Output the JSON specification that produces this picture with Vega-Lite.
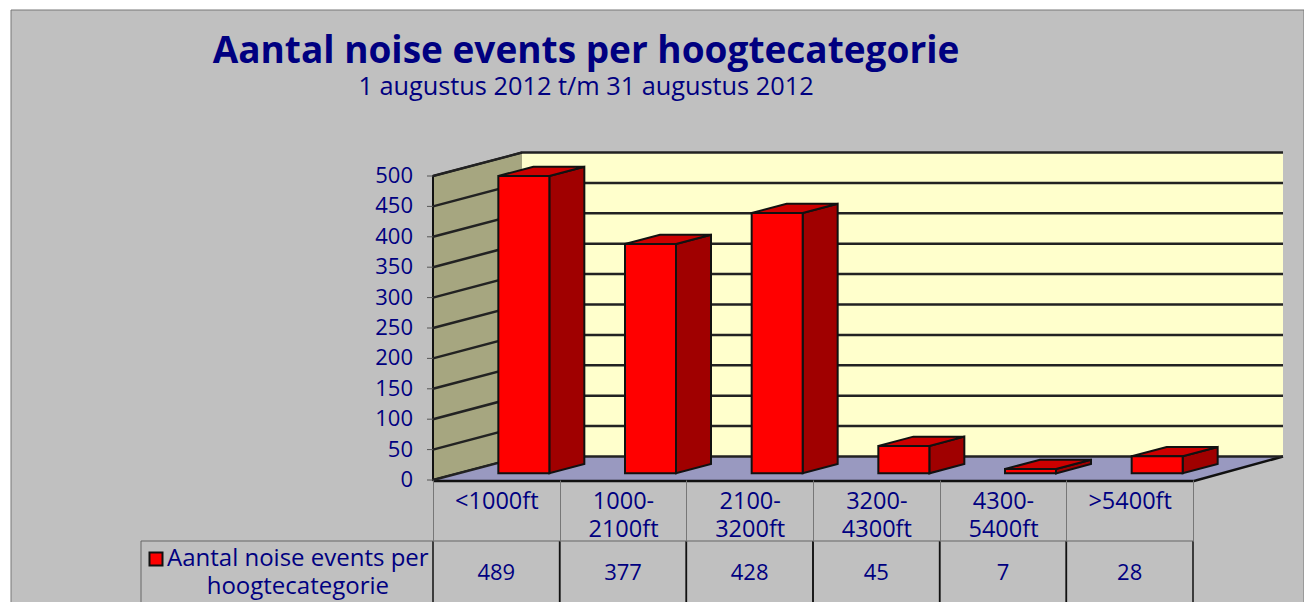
{
"$schema":"https://vega.github.io/schema/vega-lite/v6.json",
"autosize":{"type":"none"},
"width":760,"height":304,
"padding":{"left":433,"top":176,"right":111,"bottom":122},
"background":"white",
"view":{"stroke":null},
"config":{"font":"Open Sans","text":{"font":"Open Sans"}},
"title":{"text":"Aantal noise events per hoogtecategorie","subtitle":"1 augustus 2012 t/m 31 augustus 2012","anchor":"middle","frame":"group","dx":-227,"offset":-93,"font":"Open Sans","fontSize":37,"fontWeight":"bold","color":"#000080","subtitleFont":"Open Sans","subtitleFontSize":25.3,"subtitleColor":"#000080","subtitlePadding":4},
"datasets":{
"bars":[{"cat":"<1000ft","value":489},{"cat":"1000-2100ft","value":377},{"cat":"2100-3200ft","value":428},{"cat":"3200-4300ft","value":45},{"cat":"4300-5400ft","value":7},{"cat":">5400ft","value":28}],
"ticks":[{"tick":0},{"tick":50},{"tick":100},{"tick":150},{"tick":200},{"tick":250},{"tick":300},{"tick":350},{"tick":400},{"tick":450},{"tick":500}],
"one":[{"label":"Aantal noise events per\nhoogtecategorie"}]
},
"layer":[
{"data":{"name":"one"},
 "mark":{"type":"point","size":4,"filled":true,"opacity":1,"fill":"#C0C0C0","stroke":"#777777","strokeWidth":1,"shape":"M-485.33,-470 L807.67,-470 L807.67,130 L-485.33,130 Z"},
 "encoding":{
  "x":{"datum":"<1000ft","type":"nominal","title":null,"scale":{"type":"band","paddingInner":0,"paddingOuter":0,"domain":["<1000ft","1000-2100ft","2100-3200ft","3200-4300ft","4300-5400ft",">5400ft"]},
   "axis":{"zindex":1,"domain":false,"grid":false,"labelAngle":0,"labelFont":"Open Sans","labelFontSize":23.5,"labelColor":"#000080","labelLineHeight":28,"labelPadding":-40,"labelBaseline":"middle","labelOverlap":false,"labelBound":false,"labelFlush":false,"ticks":true,"tickBand":"extent","tickSize":61,"tickColor":"#777777","tickWidth":1,"title":null,
    "labelExpr":"indexof(datum.label,'-')>0 ? [slice(datum.label,0,indexof(datum.label,'-')+1),slice(datum.label,indexof(datum.label,'-')+1)] : datum.label"}},
  "y":{"datum":0,"type":"quantitative","title":null,"scale":{"domain":[0,500],"nice":false,"zero":true},
   "axis":{"zindex":1,"domain":false,"grid":false,"labels":false,"ticks":false,"title":null}}}},
{"data":{"name":"one"},
 "mark":{"type":"point","size":4,"filled":true,"opacity":1,"fill":"#FFFFCC","stroke":null,"shape":"M25.67,-23.5 L786.67,-23.5 L786.67,-327.5 L25.67,-327.5 Z"},
 "encoding":{"x":{"datum":"<1000ft","type":"nominal","title":null},"y":{"datum":0,"type":"quantitative","title":null}}},
{"data":{"name":"one"},
 "mark":{"type":"point","size":4,"filled":true,"opacity":1,"fill":"#A6A680","stroke":"#111111","strokeWidth":2,"shape":"M25.67,-327.5 L-63.33,-304 L-63.33,0 L25.67,-23.5"},
 "encoding":{"x":{"datum":"<1000ft","type":"nominal","title":null},"y":{"datum":0,"type":"quantitative","title":null}}},
{"data":{"name":"one"},
 "mark":{"type":"point","size":4,"filled":true,"opacity":1,"fill":"#9999C0","stroke":null,"shape":"M-63.33,0 L25.67,-23.5 L786.67,-23.5 L697.67,0 Z"},
 "encoding":{"x":{"datum":"<1000ft","type":"nominal","title":null},"y":{"datum":0,"type":"quantitative","title":null}}},
{"data":{"name":"one"},
 "mark":{"type":"point","size":4,"filled":false,"opacity":1,"stroke":"#111111","strokeWidth":2.5,"shape":"M-63.33,1 L697.67,1 L786.67,-23.5"},
 "encoding":{"x":{"datum":"<1000ft","type":"nominal","title":null},"y":{"datum":0,"type":"quantitative","title":null}}},
{"data":{"name":"ticks"},
 "mark":{"type":"point","size":4,"filled":false,"opacity":1,"stroke":"#222222","strokeWidth":2.5,"shape":"M-63.33,0 L25.67,-23.5 L786.67,-23.5"},
 "encoding":{"x":{"datum":"<1000ft","type":"nominal","title":null},"y":{"field":"tick","type":"quantitative","title":null}}},
{"data":{"name":"ticks"},
 "mark":{"type":"point","size":4,"filled":false,"opacity":1,"stroke":"#555555","strokeWidth":1,"shape":"M-69.33,0 L-63.33,0"},
 "encoding":{"x":{"datum":"<1000ft","type":"nominal","title":null},"y":{"field":"tick","type":"quantitative","title":null}}},
{"data":{"name":"ticks"},
 "mark":{"type":"text","font":"Open Sans","fontSize":22,"color":"#000080","align":"right","baseline":"middle","xOffset":-83.33},
 "encoding":{"x":{"datum":"<1000ft","type":"nominal","title":null},"y":{"field":"tick","type":"quantitative","title":null},"text":{"field":"tick","type":"quantitative"}}},
{"data":{"name":"bars"},
 "mark":{"type":"point","size":4,"filled":true,"opacity":1,"stroke":"#111111","strokeWidth":2,"xOffset":27.5,"yOffset":-6.7},
 "encoding":{"x":{"field":"cat","type":"nominal","title":null},"y":{"field":"value","type":"quantitative","title":null},
  "color":{"value":"#A00000"},
  "shape":{"field":"cat","type":"nominal","legend":null,"scale":{"domain":["<1000ft","1000-2100ft","2100-3200ft","3200-4300ft","4300-5400ft",">5400ft"],"range":["M25.5,0 L60.5,-9.3 L60.5,288 L25.5,297.3 Z","M25.5,0 L60.5,-9.3 L60.5,219.9 L25.5,229.2 Z","M25.5,0 L60.5,-9.3 L60.5,250.9 L25.5,260.2 Z","M25.5,0 L60.5,-9.3 L60.5,18.1 L25.5,27.4 Z","M25.5,0 L60.5,-9.3 L60.5,-5 L25.5,4.3 Z","M25.5,0 L60.5,-9.3 L60.5,7.7 L25.5,17 Z"]}}}},
{"data":{"name":"bars"},
 "mark":{"type":"point","size":4,"filled":true,"opacity":1,"fill":"#CC0000","stroke":"#111111","strokeWidth":2,"xOffset":27.5,"yOffset":-6.7,"shape":"M-25.5,0 L25.5,0 L60.5,-9.3 L9.5,-9.3 Z"},
 "encoding":{"x":{"field":"cat","type":"nominal","title":null},"y":{"field":"value","type":"quantitative","title":null}}},
{"data":{"name":"bars"},
 "mark":{"type":"bar","width":51,"fill":"#FF0000","stroke":"#111111","strokeWidth":2,"xOffset":27.5,"yOffset":-6.7},
 "encoding":{"x":{"field":"cat","type":"nominal","title":null},"y":{"field":"value","type":"quantitative","title":null}}},
{"data":{"name":"bars"},
 "mark":{"type":"point","size":4,"filled":false,"opacity":1,"stroke":"#111111","strokeWidth":1.5,"shape":"M-63.33,61 L-63.33,130 M63.33,61 L63.33,130"},
 "encoding":{"x":{"field":"cat","type":"nominal","title":null},"y":{"datum":0,"type":"quantitative","title":null}}},
{"data":{"name":"one"},
 "mark":{"type":"point","size":4,"filled":false,"opacity":1,"stroke":"#666666","strokeWidth":1,"shape":"M-355.33,130 L-355.33,61 L697.67,61"},
 "encoding":{"x":{"datum":"<1000ft","type":"nominal","title":null},"y":{"datum":0,"type":"quantitative","title":null}}},
{"data":{"name":"bars"},
 "mark":{"type":"text","font":"Open Sans","fontSize":22,"color":"#000080","yOffset":93,"baseline":"middle"},
 "encoding":{"x":{"field":"cat","type":"nominal","title":null},"y":{"datum":0,"type":"quantitative","title":null},"text":{"field":"value","type":"quantitative"}}},
{"data":{"name":"one"},
 "mark":{"type":"text","font":"Open Sans","fontSize":24,"color":"#000080","xOffset":-198.5,"yOffset":79,"baseline":"middle","lineHeight":28,"lineBreak":"\n"},
 "encoding":{"x":{"datum":"<1000ft","type":"nominal","title":null},"y":{"datum":0,"type":"quantitative","title":null},"text":{"field":"label"}}},
{"data":{"name":"one"},
 "mark":{"type":"point","shape":"square","size":169,"filled":true,"opacity":1,"fill":"#FF0000","stroke":"#111111","strokeWidth":2,"xOffset":-340.33,"yOffset":79},
 "encoding":{"x":{"datum":"<1000ft","type":"nominal","title":null},"y":{"datum":0,"type":"quantitative","title":null}}}
]
}
